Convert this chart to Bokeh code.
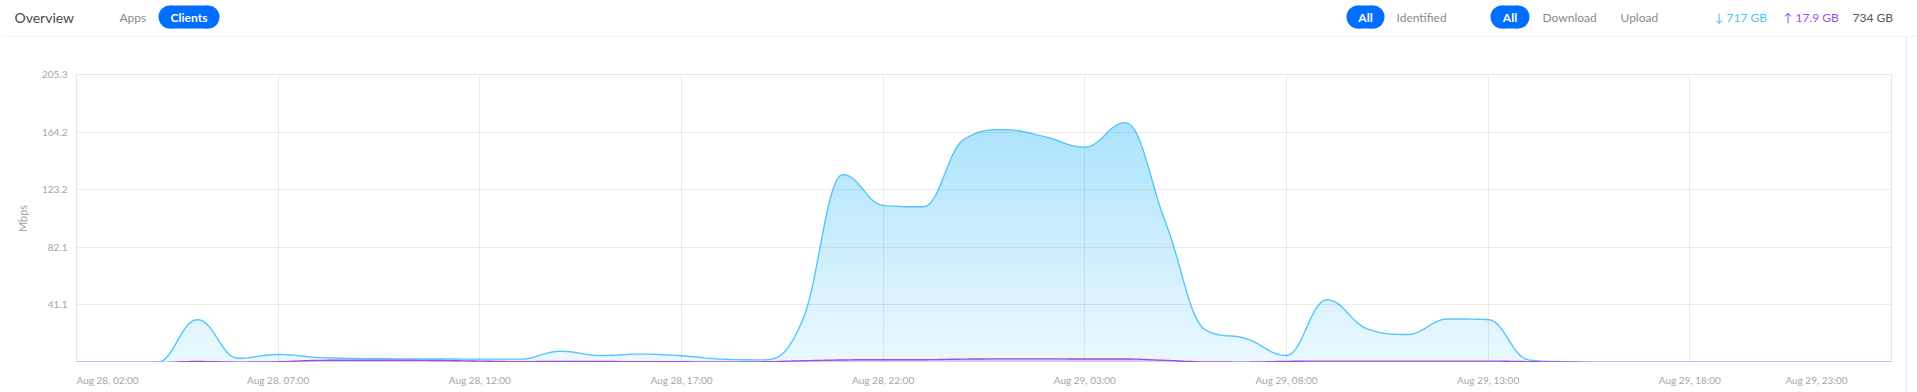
import numpy as np
import pandas as pd
from bokeh.plotting import figure
from bokeh.core.properties import value
from bokeh.models import FixedTicker, Range1d
from bokeh.embed import file_html
from bokeh.resources import INLINE

# ---------------- data ----------------
start_time = "2024-08-28 02:00"
end_time = "2024-08-29 23:00"
download_mbps = [0, 0, 0, 30.6, 3.0, 5.7, 3.6, 2.8, 2.6, 2.5, 2.4, 2.4, 8.0, 5.0, 6.0, 4.8, 2.4, 1.9,
                 30.0, 134.0, 112.0, 111.0, 159.0, 166.0, 161.0, 153.5, 171.0, 100.0,
                 23.0, 17.0, 5.0, 44.7, 24.0, 20.0, 31.0, 30.6, 1.9, 0.5,
                 0, 0, 0, 0, 0, 0, 0, 0]
upload_mbps = [0, 0, 0, 0.7, 0.3, 0.5, 1.5, 1.6, 1.6, 1.4, 1.0, 0.6, 0.8, 0.7, 0.6, 0.5, 0.4, 0.5,
               1.2, 1.8, 2.0, 2.0, 2.4, 2.6, 2.6, 2.5, 2.5, 1.5,
               0.4, 0.3, 0.8, 1.0, 1.0, 1.0, 1.0, 1.0, 0.6, 0.2,
               0, 0, 0, 0, 0, 0, 0, 0]
x_tick_labels = ["Aug 28, 02:00", "Aug 28, 07:00", "Aug 28, 12:00", "Aug 28, 17:00", "Aug 28, 22:00",
                 "Aug 29, 03:00", "Aug 29, 08:00", "Aug 29, 13:00", "Aug 29, 18:00", "Aug 29, 23:00"]
y_max = 205.3
y_tick_labels = ["41.1", "82.1", "123.2", "164.2", "205.3"]
tabs = ["Apps", "Clients"]
filters_a = ["All", "Identified"]
filters_b = ["All", "Download", "Upload"]
totals = ["\u2193 717 GB", "\u2191 17.9 GB", "734 GB"]

# ---------------- helpers ----------------
EPOCH = pd.Timestamp("1970-01-01")
times = pd.date_range(start_time, end_time, freq="h")
x_ms = np.asarray((times - EPOCH) / pd.Timedelta(milliseconds=1), dtype=float)
tick_ms = [float((pd.to_datetime("2024 " + s, format="%Y %b %d, %H:%M") - EPOCH) / pd.Timedelta(milliseconds=1))
           for s in x_tick_labels]


def spline(xs, ys, steps=14):
    """Render data points as a Highcharts-style spline (cubic Bezier segments)."""
    xs = np.asarray(xs, float)
    ys = np.asarray(ys, float)
    n = len(xs)
    sm, den = 1.5, 2.5
    lc = np.stack([xs, ys], 1).copy()
    rc = lc.copy()
    for i in range(1, n - 1):
        px, py = xs[i], ys[i]
        lx, ly = xs[i - 1], ys[i - 1]
        nx, ny = xs[i + 1], ys[i + 1]
        lcx = (sm * px + lx) / den
        lcy = (sm * py + ly) / den
        rcx = (sm * px + nx) / den
        rcy = (sm * py + ny) / den
        if rcx != lcx:
            corr = ((rcy - lcy) * (rcx - px)) / (rcx - lcx) + py - rcy
            lcy += corr
            rcy += corr
        if lcy > max(ly, py):
            lcy = max(ly, py); rcy = 2 * py - lcy
        elif lcy < min(ly, py):
            lcy = min(ly, py); rcy = 2 * py - lcy
        if rcy > max(py, ny):
            rcy = max(py, ny); lcy = 2 * py - rcy
        elif rcy < min(py, ny):
            rcy = min(py, ny); lcy = 2 * py - rcy
        lc[i] = (lcx, lcy)
        rc[i] = (rcx, rcy)
    t = np.linspace(0, 1, steps, endpoint=False)[:, None]
    out = []
    for i in range(n - 1):
        p0 = np.array([xs[i], ys[i]])
        p3 = np.array([xs[i + 1], ys[i + 1]])
        c1, c2 = rc[i], lc[i + 1]
        out.append(((1 - t) ** 3) * p0 + 3 * ((1 - t) ** 2) * t * c1 + 3 * (1 - t) * t ** 2 * c2 + t ** 3 * p3)
    out.append(np.array([[xs[-1], ys[-1]]]))
    pts = np.vstack(out)
    return pts[:, 0], np.maximum(pts[:, 1], 0)


def blend(hex_color, alpha):
    h = hex_color.lstrip("#")
    r, g, b = (int(h[i:i + 2], 16) for i in (0, 2, 4))
    mix = lambda c: int(round(255 + (c - 255) * alpha))
    return "#%02x%02x%02x" % (mix(r), mix(g), mix(b))


FONT = "Lato"
DOWN = "#56c6f9"
UP = "#a24be6"
AXIS_TXT = "#a2a6ae"
BLUE = "#006fff"
GRAY = "#8a8a8a"
LINE = "#e9e9e9"

# ---------------- header strip (pixel coordinates) ----------------
hdr = figure(width=1917, height=37, x_range=Range1d(0, 1917), y_range=Range1d(37, 0),
             x_axis_location=None, y_axis_location=None, output_backend="svg", toolbar_location=None,
             min_border=0, min_border_left=0, min_border_right=0, min_border_top=0, min_border_bottom=0,
             outline_line_color=None, background_fill_color="white", border_fill_color="white")
hdr.grid.visible = False


def htext(texts, xs, size, color, align="left", bold=False):
    hdr.text(x=xs, y=[16.5] * len(xs), text=texts, text_align=align, text_baseline="middle",
             text_font=value(FONT), text_font_size=value(f"{size}px"), text_color=color,
             text_font_style="bold" if bold else "normal")


def pill(x0, x1, y0=5, y1=28):
    r = (y1 - y0) / 2
    hdr.quad(left=[x0 + r], right=[x1 - r], top=[y0], bottom=[y1], fill_color=BLUE, line_color=None)
    hdr.circle(x=[x0 + r, x1 - r], y=[y0 + r, y0 + r], radius=r, fill_color=BLUE, line_color=None)


htext(["Overview"], [14], 14, "#454a50")
htext([tabs[0]], [119], 12, GRAY)
pill(158, 219)
htext([tabs[1]], [188.5], 12, "white", align="center", bold=True)
pill(1346, 1384)
htext([filters_a[0]], [1365], 12, "white", align="center", bold=True)
htext([filters_a[1]], [1396], 12, GRAY)
pill(1490, 1529)
htext([filters_b[0]], [1509.5], 12, "white", align="center", bold=True)
htext(filters_b[1:], [1542, 1620], 12, GRAY)
htext([totals[0]], [1714], 12, "#4fc3f7")
htext([totals[1]], [1783], 12, UP)
htext([totals[2]], [1852], 12, "#555555")
hdr.line(x=[0, 1917], y=[36.5, 36.5], line_color=LINE, line_width=1)

# ---------------- chart ----------------
p = figure(width=1907, height=325, x_axis_type="datetime", x_axis_location=None,
           x_range=Range1d(tick_ms[0], tick_ms[-1]), y_range=Range1d(0, y_max),
           output_backend="svg", toolbar_location=None,
           min_border_left=76, min_border_right=16, min_border_top=37, min_border_bottom=0,
           background_fill_color="white", border_fill_color="white")
p.outline_line_color = "#e6e6e6"
p.outline_line_width = 1

# download area with a vertical gradient (drawn as horizontal bands)
dx, dy = spline(x_ms, download_mbps)
n_bands = 30
for k in range(n_bands):
    lo = y_max * k / n_bands
    hi = y_max * (k + 1) / n_bands
    if lo >= dy.max():
        break
    frac = ((lo + hi) / 2) / y_max
    p.varea(x=dx, y1=np.minimum(dy, lo), y2=np.minimum(dy, hi + 0.3),
            fill_color=blend(DOWN, 0.12 + 0.45 * frac), fill_alpha=1)
p.line(dx, dy, line_color=DOWN, line_width=1.4)

# upload area
ux, uy = spline(x_ms, upload_mbps)
p.varea(x=ux, y1=0, y2=uy, fill_color=UP, fill_alpha=0.25)
p.line(ux, uy, line_color=UP, line_width=1.4)

# axes and grid
y_ticks = [y_max * (i + 1) / 5 for i in range(5)]
p.yaxis.ticker = FixedTicker(ticks=y_ticks)
p.yaxis.major_label_overrides = {v: s for v, s in zip(y_ticks, y_tick_labels)}
for g in p.xgrid:
    g.ticker = FixedTicker(ticks=tick_ms[1:-1])
for g in list(p.xgrid) + list(p.ygrid):
    g.grid_line_color = "#000000"
    g.grid_line_alpha = 0.075
    g.grid_line_width = 1
    g.level = "overlay"

ax = p.yaxis[0]
ax.axis_line_color = None
ax.major_tick_line_color = None
ax.minor_tick_line_color = None
ax.major_tick_out = 0
ax.major_tick_in = 0
ax.minor_tick_out = 0
ax.major_label_text_font = FONT
ax.major_label_text_font_size = "10px"
ax.major_label_text_color = AXIS_TXT
ax.major_label_standoff = 9
ax.axis_label = "Mbps"
ax.axis_label_text_font = FONT
ax.axis_label_text_font_size = "11px"
ax.axis_label_text_font_style = "normal"
ax.axis_label_text_color = AXIS_TXT
ax.axis_label_standoff = 10
p.styles = {"border-right": "1px solid " + LINE}

# ---------------- time-axis labels (same x scale as the chart) ----------------
s = figure(width=1907, height=30, x_range=p.x_range, y_range=Range1d(30, 0),
           x_axis_location=None, y_axis_location=None, output_backend="svg", toolbar_location=None,
           min_border_left=76, min_border_right=16, min_border_top=0, min_border_bottom=0,
           outline_line_color=None, background_fill_color="white", border_fill_color="white")
s.grid.visible = False
s.styles = {"border-right": "1px solid " + LINE}
lab_kw = dict(text_baseline="middle", text_font=value(FONT), text_font_size=value("10px"), text_color=AXIS_TXT)
s.text(x=tick_ms[1:-1], y=[17] * (len(tick_ms) - 2), text=x_tick_labels[1:-1], text_align="center", **lab_kw)
s.text(x=[tick_ms[0]], y=[17], text=[x_tick_labels[0]], text_align="left", **lab_kw)
s.text(x=[tick_ms[-1]], y=[17], text=[x_tick_labels[-1]], text_align="right", x_offset=-44, **lab_kw)

# three independent roots (no frame alignment between header and chart)
open("out.html", "w").write(file_html([hdr, p, s], INLINE))
